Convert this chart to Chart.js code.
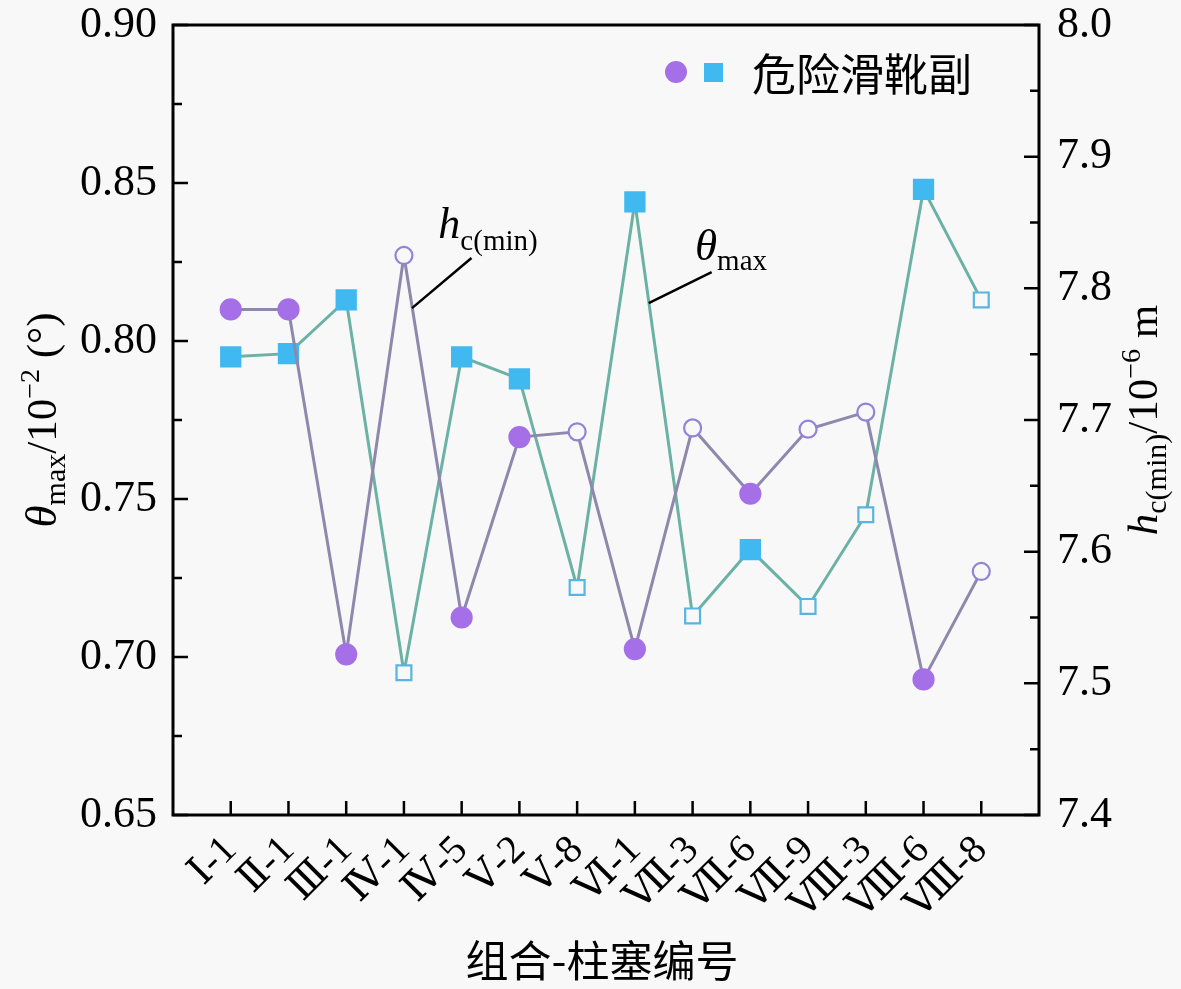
<!DOCTYPE html>
<html>
<head>
<meta charset="utf-8">
<script src="https://cdn.jsdelivr.net/npm/chart.js@4.4.1/dist/chart.umd.min.js"></script>
<style>
  html, body { margin: 0; padding: 0; background: #f8f8f8; }
  #wrap { width: 1181px; height: 989px; }
</style>
</head>
<body>
<div id="wrap"><canvas id="chart"></canvas></div>
<script>
// categories (组合-柱塞编号)
const categories = ["Ⅰ-1", "Ⅱ-1", "Ⅲ-1", "Ⅳ-1", "Ⅳ-5", "Ⅴ-2", "Ⅴ-8",
  "Ⅵ-1", "Ⅶ-3", "Ⅶ-6", "Ⅶ-9", "Ⅷ-3", "Ⅷ-6", "Ⅷ-8"];
// θmax, 10^-2 (°) - left axis, squares
const thetaMax = [0.795, 0.796, 0.813, 0.695, 0.795, 0.788, 0.722,
  0.844, 0.713, 0.734, 0.716, 0.745, 0.848, 0.813];
// hc(min), 10^-6 m - right axis, circles
const hcMin = [7.784, 7.784, 7.522, 7.825, 7.550, 7.687, 7.691,
  7.526, 7.694, 7.644, 7.693, 7.706, 7.503, 7.585];
// 危险滑靴副 (filled markers)
const dangerous = [true, true, true, false, true, true, false,
  true, false, true, false, false, true, false];
const leftTicks = [0.65, 0.70, 0.75, 0.80, 0.85, 0.90];
const rightTicks = [7.4, 7.5, 7.6, 7.7, 7.8, 7.9, 8.0];

const SERIF = "'Liberation Serif', 'DejaVu Serif', serif";
const CJK = "'Noto Sans CJK SC', sans-serif";
const BG = "#f8f8f8";
const PURPLE = "#a56fe8";
const BLUE = "#40b8f0";

function drawRich(ctx, parts, x, y) {
  let w = 0;
  parts.forEach((p) => {
    ctx.font = p.font;
    p.w = ctx.measureText(p.t).width;
    w += p.w;
  });
  let cx = x - w / 2;
  parts.forEach((p) => {
    ctx.font = p.font;
    ctx.fillText(p.t, cx, y + (p.dy || 0));
    cx += p.w;
  });
}

// keep the plot box fixed, whatever the label sizes
function fixV(width) {
  return (s) => {
    s.width = width;
    s.paddingTop = 0;
    s.paddingBottom = 0;
  };
}

const decorPlugin = {
  id: "decor",
  afterDraw(chart) {
    const ctx = chart.ctx;
    const a = chart.chartArea;
    const sx = chart.scales.x;
    const sy = chart.scales.y;
    const sy2 = chart.scales.y2;
    ctx.save();
    ctx.strokeStyle = "#000";
    ctx.fillStyle = "#000";

    // frame
    ctx.lineWidth = 3;
    ctx.strokeRect(a.left, a.top, a.right - a.left, a.bottom - a.top);

    // inward ticks
    ctx.lineWidth = 2.5;
    ctx.beginPath();
    leftTicks.forEach((v, i) => {
      const py = sy.getPixelForValue(v);
      ctx.moveTo(a.left, py); ctx.lineTo(a.left + 15, py);
      if (i < leftTicks.length - 1) {
        const my = sy.getPixelForValue(v + 0.025);
        ctx.moveTo(a.left, my); ctx.lineTo(a.left + 9, my);
      }
    });
    rightTicks.forEach((v, i) => {
      const py = sy2.getPixelForValue(v);
      ctx.moveTo(a.right, py); ctx.lineTo(a.right - 15, py);
      if (i < rightTicks.length - 1) {
        const my = sy2.getPixelForValue(v + 0.05);
        ctx.moveTo(a.right, my); ctx.lineTo(a.right - 9, my);
      }
    });
    categories.forEach((c, i) => {
      const px = sx.getPixelForValue(i + 1);
      ctx.moveTo(px, a.bottom); ctx.lineTo(px, a.bottom - 14);
    });
    ctx.stroke();

    // axis titles
    ctx.textAlign = "left";
    ctx.textBaseline = "alphabetic";
    const midY = (a.top + a.bottom) / 2;
    ctx.save();
    ctx.translate(56, midY);
    ctx.rotate(-Math.PI / 2);
    drawRich(ctx, [
      { t: "θ", font: "italic 45px " + SERIF },
      { t: "max", font: "30px " + SERIF, dy: 9 },
      { t: "/10", font: "43px " + SERIF },
      { t: "−2", font: "28px " + SERIF, dy: -17 },
      { t: " (°)", font: "43px " + SERIF },
    ], 0, 0);
    ctx.restore();

    ctx.save();
    ctx.translate(1157, midY);
    ctx.rotate(-Math.PI / 2);
    drawRich(ctx, [
      { t: "h", font: "italic 43px " + SERIF },
      { t: "c(min)", font: "30px " + SERIF, dy: 9 },
      { t: "/10", font: "43px " + SERIF },
      { t: "−6", font: "28px " + SERIF, dy: -17 },
      { t: " m", font: "43px " + SERIF },
    ], 0, 0);
    ctx.restore();

    ctx.font = "43px " + CJK;
    ctx.textAlign = "center";
    ctx.textBaseline = "middle";
    ctx.fillText("组合-柱塞编号", 602, 961);

    // legend
    ctx.fillStyle = PURPLE;
    ctx.beginPath();
    ctx.arc(676, 72, 11, 0, Math.PI * 2);
    ctx.fill();
    ctx.fillStyle = BLUE;
    ctx.fillRect(704, 63, 19, 19);
    ctx.fillStyle = "#000";
    ctx.textAlign = "left";
    ctx.font = "44px " + CJK;
    ctx.fillText("危险滑靴副", 752, 74);

    // curve labels with leader lines
    ctx.lineWidth = 2.5;
    ctx.beginPath();
    ctx.moveTo(sx.getPixelForValue(5.17), sy2.getPixelForValue(7.823));
    ctx.lineTo(sx.getPixelForValue(4.14), sy2.getPixelForValue(7.785));
    ctx.moveTo(sx.getPixelForValue(9.33), sy.getPixelForValue(0.8218));
    ctx.lineTo(sx.getPixelForValue(8.24), sy.getPixelForValue(0.812));
    ctx.stroke();

    ctx.textBaseline = "alphabetic";
    drawRich(ctx, [
      { t: "h", font: "italic 44px " + SERIF },
      { t: "c(min)", font: "29px " + SERIF, dy: 12 },
    ], 488, 238);
    drawRich(ctx, [
      { t: "θ", font: "italic 45px " + SERIF },
      { t: "max", font: "29px " + SERIF, dy: 10 },
    ], 731, 260);

    ctx.restore();
  },
};

new Chart(document.getElementById("chart"), {
  type: "line",
  data: {
    datasets: [
      {
        label: "hc(min)",
        yAxisID: "y2",
        data: hcMin.map((v, i) => ({ x: i + 1, y: v })),
        borderColor: "#8e88ac",
        borderWidth: 3,
        pointStyle: "circle",
        pointRadius: dangerous.map((d) => (d ? 10 : 8.5)),
        pointBackgroundColor: dangerous.map((d) => (d ? PURPLE : BG)),
        pointBorderColor: dangerous.map((d) => (d ? PURPLE : "#9282d8")),
        pointBorderWidth: 2.2,
        tension: 0,
      },
      {
        label: "θmax",
        yAxisID: "y",
        data: thetaMax.map((v, i) => ({ x: i + 1, y: v })),
        borderColor: "#6cb2a4",
        borderWidth: 3,
        pointStyle: "rect",
        pointRadius: dangerous.map((d) => (d ? 13.5 : 10.5)),
        pointBackgroundColor: dangerous.map((d) => (d ? BLUE : BG)),
        pointBorderColor: dangerous.map((d) => (d ? BLUE : "#58b4e2")),
        pointBorderWidth: 2.2,
        tension: 0,
      },
    ],
  },
  options: {
    responsive: true,
    maintainAspectRatio: false,
    animation: false,
    layout: { padding: { top: 25, left: 0, right: 0, bottom: 0 } },
    plugins: {
      legend: { display: false },
      tooltip: { enabled: false },
    },
    scales: {
      x: {
        type: "linear",
        min: 0,
        max: categories.length + 1,
        grid: { display: false, drawTicks: false },
        border: { display: false },
        afterFit: (s) => {
          s.height = 174;
          s.paddingLeft = 0;
          s.paddingRight = 0;
        },
        ticks: {
          stepSize: 1,
          autoSkip: false,
          minRotation: 45,
          maxRotation: 45,
          padding: 12,
          color: "#000",
          font: { family: SERIF, size: 40 },
          callback: (v) => categories[v - 1] || "",
        },
      },
      y: {
        position: "left",
        min: 0.65,
        max: 0.90,
        grid: { display: false, drawTicks: false },
        border: { display: false },
        afterFit: fixV(173),
        ticks: {
          stepSize: 0.05,
          padding: 16,
          color: "#000",
          font: { family: SERIF, size: 44 },
          callback: (v) => v.toFixed(2),
        },
      },
      y2: {
        position: "right",
        min: 7.4,
        max: 8.0,
        grid: { display: false, drawTicks: false },
        border: { display: false },
        afterFit: fixV(142),
        ticks: {
          stepSize: 0.1,
          padding: 18,
          color: "#000",
          font: { family: SERIF, size: 44 },
          callback: (v) => v.toFixed(1),
        },
      },
    },
  },
  plugins: [decorPlugin],
});
</script>
</body>
</html>
